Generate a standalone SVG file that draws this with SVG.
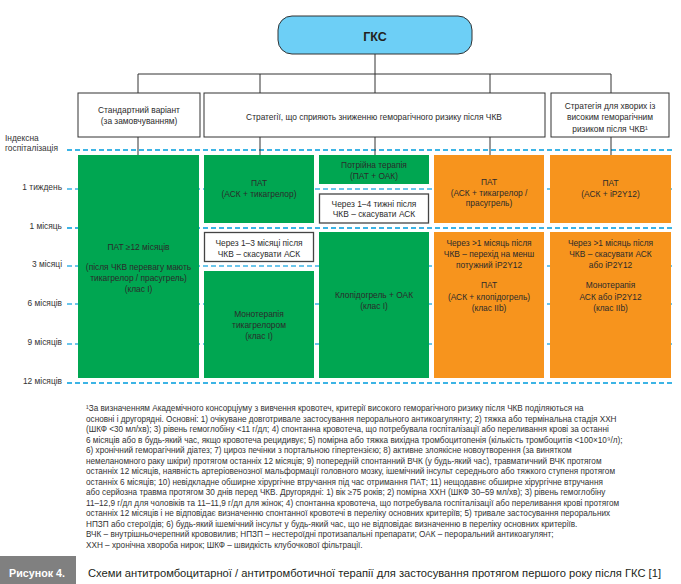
<svg xmlns="http://www.w3.org/2000/svg" width="681" height="584" viewBox="0 0 681 584">
<style>
text{font-family:"Liberation Sans",Arial,sans-serif;fill:#2b2b2b}
.t{font-size:8.4px;text-anchor:middle}
.lab{font-size:8.4px;text-anchor:end;fill:#333}
.fn{font-size:8.2px;fill:#333}
.hdr{fill:#fff;stroke:#333;stroke-width:1}
.grn{fill:#00a651}
.org{fill:#f7941d}
.wht{fill:#fff;stroke:#444;stroke-width:1.3}
.dash{stroke:#3cb4e5;stroke-width:1.6;stroke-dasharray:5 3;fill:none}
.dashb{stroke:#3cb4e5;stroke-width:2;stroke-dasharray:5 3;fill:none}
.con{stroke:#333;stroke-width:1;fill:none}
</style>
<rect width="681" height="584" fill="#fff"/>
<g id="timeline">
<line class="dashb" x1="67" y1="150" x2="675" y2="150"/>
<line class="dash" x1="67" y1="189" x2="675" y2="189"/>
<line class="dashb" x1="67" y1="228" x2="675" y2="228"/>
<line class="dash" x1="67" y1="266" x2="675" y2="266"/>
<line class="dash" x1="67" y1="304" x2="675" y2="304"/>
<line class="dash" x1="67" y1="344" x2="675" y2="344"/>
<line class="dashb" x1="67" y1="383" x2="675" y2="383"/>
<text x="5" y="141" style="font-size:8.4px;fill:#333">Індексна</text>
<text x="5" y="151" style="font-size:8.4px;fill:#333">госпіталізація</text>
<text class="lab" x="62" y="190">1 тиждень</text>
<text class="lab" x="62" y="229">1 місяць</text>
<text class="lab" x="62" y="267">3 місяці</text>
<text class="lab" x="62" y="306">6 місяців</text>
<text class="lab" x="62" y="345">9 місяців</text>
<text class="lab" x="62" y="384">12 місяців</text>
</g>
<g id="connectors">
<line class="con" x1="375" y1="54" x2="375" y2="74"/>
<line class="con" x1="138" y1="74" x2="611" y2="74"/>
<line class="con" x1="138" y1="74" x2="138" y2="93"/>
<line class="con" x1="260" y1="74" x2="260" y2="93"/>
<line class="con" x1="375" y1="74" x2="375" y2="93"/>
<line class="con" x1="490" y1="74" x2="490" y2="93"/>
<line class="con" x1="611" y1="74" x2="611" y2="93"/>
<line class="con" x1="138" y1="137" x2="138" y2="155"/>
<line class="con" x1="260" y1="137" x2="260" y2="155"/>
<line class="con" x1="375" y1="137" x2="375" y2="155"/>
<line class="con" x1="490" y1="137" x2="490" y2="155"/>
<line class="con" x1="611" y1="137" x2="611" y2="155"/>
</g>
<g id="gks">
<rect x="278" y="16" width="194" height="38" rx="14" fill="#6dcff6" stroke="#333" stroke-width="1"/>
<text x="375" y="40.5" style="font-size:12.5px;font-weight:bold;text-anchor:middle;fill:#231f20">ГКС</text>
</g>
<g id="h-standard">
<rect class="hdr" x="78" y="93" width="122" height="44"/>
<text class="t" x="139" y="113">Стандартний варіант</text>
<text class="t" x="139" y="124">(за замовчуванням)</text>
</g>
<g id="h-strategies">
<rect class="hdr" x="204" y="93" width="341" height="44"/>
<text class="t" x="374" y="120">Стратегії, що сприяють зниженню геморагічного ризику після ЧКВ</text>
</g>
<g id="h-high">
<rect class="hdr" x="551" y="93" width="118" height="44"/>
<text class="t" x="610" y="108.5">Стратегія для хворих із</text>
<text class="t" x="610" y="120">високим геморагічним</text>
<text class="t" x="610" y="131.5">ризиком після ЧКВ¹</text>
</g>
<g id="b-dapt12">
<rect class="grn" x="78" y="155" width="121" height="223"/>
<text class="t" x="138.5" y="250">ПАТ ≥12 місяців</text>
<text class="t" x="138.5" y="270">(після ЧКВ перевагу мають</text>
<text class="t" x="138.5" y="281">тикагрелор /  прасугрель)</text>
<text class="t" x="138.5" y="292">(клас I)</text>
</g>
<g id="b-dapt-tica">
<rect class="grn" x="204" y="155" width="110" height="68"/>
<text class="t" x="259" y="186">ПАТ</text>
<text class="t" x="259" y="197">(АСК + тикагрелор)</text>
</g>
<g id="b-stop13">
<rect class="wht" x="204.5" y="232.5" width="109" height="29"/>
<text class="t" x="259" y="246">Через 1–3 місяці після</text>
<text class="t" x="259" y="256.5">ЧКВ – скасувати АСК</text>
</g>
<g id="b-mono-tica">
<rect class="grn" x="204" y="271" width="110" height="107"/>
<text class="t" x="259" y="317">Монотерапія</text>
<text class="t" x="259" y="328">тикагрелором</text>
<text class="t" x="259" y="339">(клас I)</text>
</g>
<g id="b-triple">
<rect class="grn" x="319" y="155" width="110" height="29"/>
<text class="t" x="374" y="168">Потрійна терапія</text>
<text class="t" x="374" y="178.5">(ПАТ + ОАК)</text>
</g>
<g id="b-stop14">
<rect class="wht" x="319.5" y="194" width="109" height="29"/>
<text class="t" x="374" y="206.5">Через 1–4 тижні після</text>
<text class="t" x="374" y="217">ЧКВ – скасувати АСК</text>
</g>
<g id="b-clop-oak">
<rect class="grn" x="319" y="232" width="110" height="146"/>
<text class="t" x="374" y="298">Клопідогрель + ОАК</text>
<text class="t" x="374" y="309">(клас I)</text>
</g>
<g id="b-dapt-or">
<rect class="org" x="434" y="155" width="110" height="68"/>
<text class="t" x="489" y="185">ПАТ</text>
<text class="t" x="489" y="195.5">(АСК + тикагрелор /</text>
<text class="t" x="489" y="206">прасугрель)</text>
</g>
<g id="b-switch">
<rect class="org" x="434" y="232" width="110" height="146"/>
<text class="t" x="489" y="246">Через &gt;1 місяць після</text>
<text class="t" x="489" y="257">ЧКВ – перехід на менш</text>
<text class="t" x="489" y="268">потужний іP2Y12</text>
<text class="t" x="489" y="288">ПАТ</text>
<text class="t" x="489" y="299.5">(АСК + клопідогрель)</text>
<text class="t" x="489" y="310.5">(клас IIb)</text>
</g>
<g id="b-dapt-p2y12">
<rect class="org" x="550" y="155" width="121" height="68"/>
<text class="t" x="610.5" y="186">ПАТ</text>
<text class="t" x="610.5" y="197">(АСК + іP2Y12)</text>
</g>
<g id="b-mono">
<rect class="org" x="550" y="232" width="121" height="146"/>
<text class="t" x="610.5" y="246">Через &gt;1 місяць після</text>
<text class="t" x="610.5" y="257">ЧКВ – скасувати АСК</text>
<text class="t" x="610.5" y="268">або  іP2Y12</text>
<text class="t" x="610.5" y="288">Монотерапія</text>
<text class="t" x="610.5" y="299.5">АСК або іP2Y12</text>
<text class="t" x="610.5" y="310.5">(клас IIb)</text>
</g>
<g id="footnote">
<text class="fn" x="86" y="411">¹За визначенням Академічного консорціуму з вивчення кровотеч, критерії високого геморагічного ризику після ЧКВ поділяються на</text>
<text class="fn" x="86" y="421.5">основні і другорядні. Основні: 1) очікуване довготривале застосування перорального антикоагулянту; 2) тяжка або термінальна стадія ХХН</text>
<text class="fn" x="86" y="432">(ШКФ &lt;30 мл/хв); 3) рівень гемоглобіну &lt;11 г/дл; 4) спонтанна кровотеча, що потребувала госпіталізації або переливання крові за останні</text>
<text class="fn" x="86" y="442.5">6 місяців або в будь-який час, якщо кровотеча рецидивує; 5) помірна або тяжка вихідна тромбоцитопенія (кількість тромбоцитів &lt;100×10⁹/л);</text>
<text class="fn" x="86" y="453">6) хронічний геморагічний діатез; 7) цироз печінки з портальною гіпертензією; 8) активне злоякісне новоутворення (за винятком</text>
<text class="fn" x="86" y="463.5">немеланомного раку шкіри) протягом останніх 12 місяців; 9) попередній спонтанний ВЧК (у будь-який час), травматичний ВЧК протягом</text>
<text class="fn" x="86" y="474">останніх 12 місяців, наявність артеріовенозної мальформації головного мозку, ішемічний інсульт середнього або тяжкого ступеня протягом</text>
<text class="fn" x="86" y="484.5">останніх 6 місяців; 10) невідкладне обширне хірургічне втручання під час отримання ПАТ; 11) нещодавнє обширне хірургічне втручання</text>
<text class="fn" x="86" y="495">або серйозна травма протягом 30 днів перед ЧКВ. Другорядні: 1) вік ≥75 років; 2) помірна ХХН (ШКФ 30–59 мл/хв); 3) рівень гемоглобіну</text>
<text class="fn" x="86" y="505.5">11–12,9 г/дл для чоловіків та 11–11,9 г/дл для жінок; 4) спонтанна кровотеча, що потребувала госпіталізації або переливання крові протягом</text>
<text class="fn" x="86" y="516">останніх 12 місяців і не відповідає визначенню спонтанної кровотечі в переліку основних критеріїв; 5) тривале застосування пероральних</text>
<text class="fn" x="86" y="526.5">НПЗП або стероїдів; 6) будь-який ішемічний інсульт у будь-який час, що не відповідає визначенню в переліку основних критеріїв.</text>
<text class="fn" x="86" y="537">ВЧК – внутрішньочерепний крововилив; НПЗП – нестероїдні протизапальні препарати; ОАК – пероральний антикоагулянт;</text>
<text class="fn" x="86" y="547.5">ХХН – хронічна хвороба нирок; ШКФ – швидкість клубочкової фільтрації.</text>
</g>
<g id="caption">
<rect x="0" y="556" width="76" height="28" fill="#808080"/>
<text x="9" y="577" textLength="56" lengthAdjust="spacingAndGlyphs" style="font-size:11px;font-weight:bold;fill:#fff">Рисунок 4.</text>
<text x="88" y="577" textLength="573" lengthAdjust="spacingAndGlyphs" style="font-size:11.5px;fill:#231f20">Схеми антитромбоцитарної / антитромботичної терапії для застосування протягом першого року після ГКС [1]</text>
</g>
</svg>
